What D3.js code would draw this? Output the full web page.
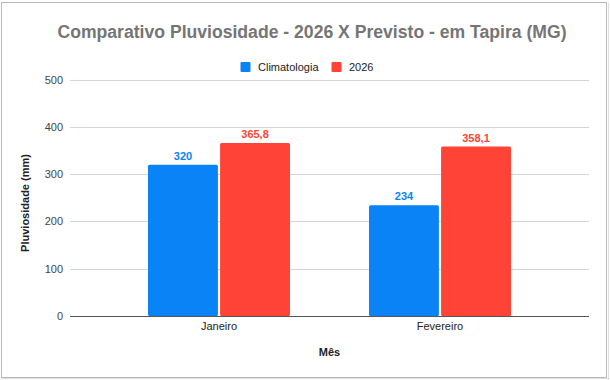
<!DOCTYPE html>
<html><head><meta charset="utf-8">
<script src="https://cdn.jsdelivr.net/npm/d3@7"></script>
<style>html,body{margin:0;padding:0;background:#fff;}svg{display:block;font-family:Arial,"Liberation Sans",sans-serif;}</style>
</head><body>
<script>
const categories = ["Janeiro", "Fevereiro"];
const seriesNames = ["Climatologia", "2026"];
const climatologia = [320, 234];
const ano2026 = [365.8, 358.1];
const yTicks = [0, 100, 200, 300, 400, 500];
const colors = ["#0a83f7", "#ff4336"];

const W = 610, H = 380;
const svg = d3.select("body").append("svg").attr("width", W).attr("height", H);

// frame
svg.append("rect").attr("x", 1.5).attr("y", 2.5).attr("width", 605).attr("height", 375)
  .attr("fill", "#fff").attr("stroke", "#b8b8b8");
svg.append("line").attr("x1", 608.5).attr("x2", 608.5).attr("y1", 3).attr("y2", 380).attr("stroke", "#e0e0e0");
svg.append("line").attr("x1", 2).attr("x2", 610).attr("y1", 378.5).attr("y2", 378.5).attr("stroke", "#e0e0e0");

const plot = {left: 70, right: 589, top: 79.5, bottom: 316};
const y = d3.scaleLinear().domain([0, 500]).range([plot.bottom, plot.top]);
const x0 = d3.scaleBand().domain(categories).range([plot.left, plot.right]).paddingInner(0.3575).paddingOuter(0.353);
const x1 = d3.scaleBand().domain(seriesNames).range([0, x0.bandwidth()]).paddingInner(0.03);

// gridlines
svg.append("g").selectAll("line").data(yTicks.filter(d => d > 0)).join("line")
  .attr("x1", plot.left).attr("x2", plot.right)
  .attr("y1", d => Math.round(y(d)) + 0.5).attr("y2", d => Math.round(y(d)) + 0.5)
  .attr("stroke", "#d4d4d4");

// y tick labels
svg.append("g").selectAll("text").data(yTicks).join("text")
  .attr("x", 63).attr("y", d => y(d) + 4)
  .attr("text-anchor", "end").attr("font-size", 11).attr("fill", "#444")
  .text(d => d);

const fmt = v => String(v).replace(".", ",");
const data = categories.map((c, i) => ({cat: c, vals: [climatologia[i], ano2026[i]]}));

const groups = svg.append("g").selectAll("g").data(data).join("g")
  .attr("transform", d => `translate(${x0(d.cat)},0)`);

groups.selectAll("rect").data(d => d.vals.map((v, j) => ({v, j}))).join("rect")
  .attr("x", d => x1(seriesNames[d.j]))
  .attr("y", d => y(d.v))
  .attr("width", x1.bandwidth())
  .attr("height", d => plot.bottom - y(d.v))
  .attr("rx", 1.5)
  .attr("fill", d => colors[d.j]);

groups.selectAll("text").data(d => d.vals.map((v, j) => ({v, j}))).join("text")
  .attr("x", d => x1(seriesNames[d.j]) + x1.bandwidth() / 2)
  .attr("y", d => y(d.v) - 5)
  .attr("text-anchor", "middle").attr("font-size", 11).attr("font-weight", "bold")
  .attr("fill", d => colors[d.j])
  .text(d => fmt(d.v));

// baseline
svg.append("line").attr("x1", plot.left).attr("x2", plot.right)
  .attr("y1", plot.bottom + 0.5).attr("y2", plot.bottom + 0.5).attr("stroke", "#555");

// x labels
svg.append("g").selectAll("text").data(categories).join("text")
  .attr("x", d => x0(d) + x0.bandwidth() / 2).attr("y", 330)
  .attr("text-anchor", "middle").attr("font-size", 11).attr("fill", "#222")
  .text(d => d);

// axis titles
svg.append("text").attr("x", (plot.left + plot.right) / 2).attr("y", 356)
  .attr("text-anchor", "middle").attr("font-size", 11).attr("font-weight", "bold").attr("fill", "#222")
  .text("Mês");
svg.append("text").attr("transform", "translate(29,203) rotate(-90)")
  .attr("text-anchor", "middle").attr("font-size", 11).attr("font-weight", "bold").attr("fill", "#222")
  .text("Pluviosidade (mm)");

// title
svg.append("text").attr("x", 312).attr("y", 38)
  .attr("text-anchor", "middle").attr("font-size", 17.6).attr("font-weight", "bold").attr("fill", "#757575")
  .text("Comparativo Pluviosidade - 2026 X Previsto - em Tapira (MG)");

// legend
const legendItems = [{name: seriesNames[0], x: 240.5, tx: 258}, {name: seriesNames[1], x: 331.5, tx: 349}];
const lg = svg.append("g");
lg.selectAll("rect").data(legendItems).join("rect")
  .attr("x", d => d.x).attr("y", 62).attr("width", 10).attr("height", 10).attr("rx", 1)
  .attr("fill", (d, i) => colors[i]);
lg.selectAll("text").data(legendItems).join("text")
  .attr("x", d => d.tx).attr("y", 71).attr("font-size", 11).attr("fill", "#222")
  .text(d => d.name);
</script>
</body></html>
